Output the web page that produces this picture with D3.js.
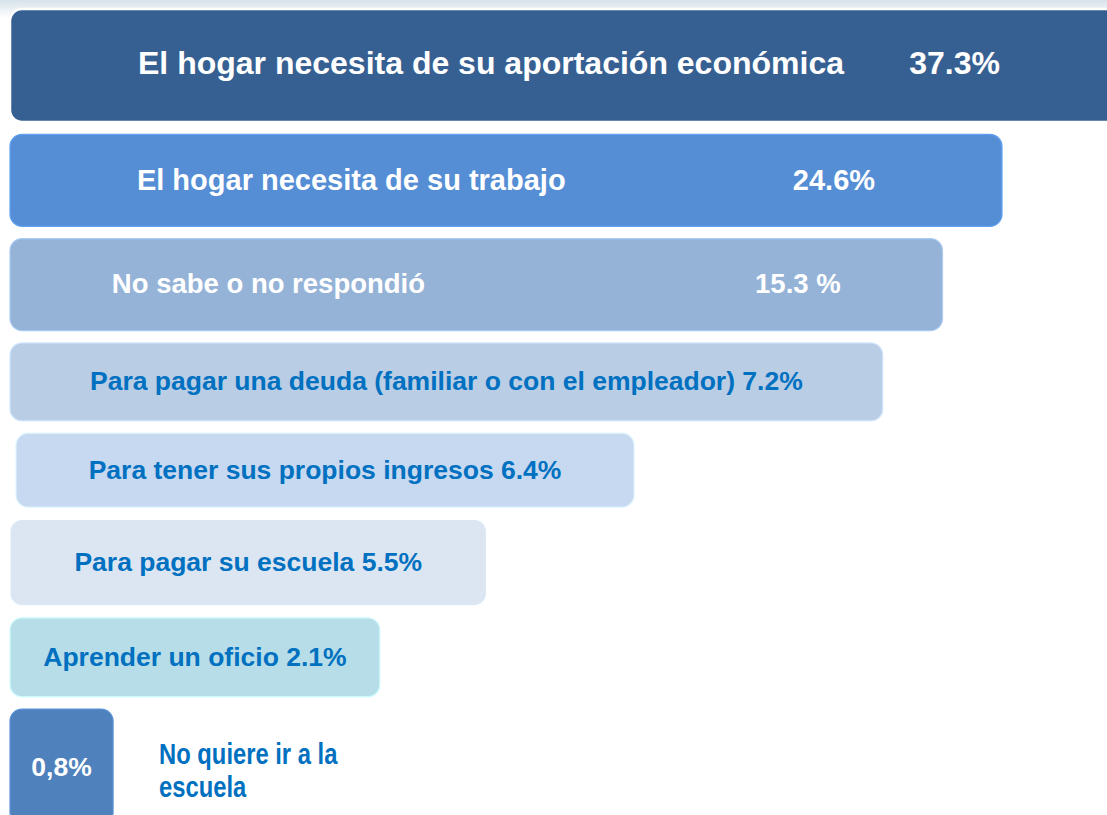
<!DOCTYPE html>
<html>
<head>
<meta charset="utf-8">
<script src="https://cdn.jsdelivr.net/npm/d3@7"></script>
<style>
  html, body { margin: 0; padding: 0; background: #ffffff; }
  svg { display: block; }
</style>
</head>
<body>
<script>
// ---------------- DATA ----------------
const categories = [
  "El hogar necesita de su aportación económica",
  "El hogar necesita de su trabajo",
  "No sabe o no respondió",
  "Para pagar una deuda (familiar o con el empleador)",
  "Para tener sus propios ingresos",
  "Para pagar su escuela",
  "Aprender un oficio",
  "No quiere ir a la escuela"
];
const values = [37.3, 24.6, 15.3, 7.2, 6.4, 5.5, 2.1, 0.8];
const valueLabels = ["37.3%", "24.6%", "15.3 %", "7.2%", "6.4%", "5.5%", "2.1%", "0,8%"];

// ---------------- STYLES ----------------
const rowStyles = [
  { layout: "split",  fill: "#376092", text: "#ffffff", size: 32,   height: 113, indent: 0, stroke: "#ffffff" },
  { layout: "split",  fill: "#558ED5", text: "#ffffff", size: 29,   height: 92,  indent: 0 },
  { layout: "split",  fill: "#95B3D7", text: "#ffffff", size: 27.5, height: 92,  indent: 0 },
  { layout: "inline", fill: "#B9CDE5", text: "#0070C0", size: 26.5, height: 78,  indent: 0 },
  { layout: "inline", fill: "#C6D9F1", text: "#0070C0", size: 26.5, height: 74,  indent: 6 },
  { layout: "inline", fill: "#DCE6F2", text: "#0070C0", size: 26.5, height: 86,  indent: 0 },
  { layout: "inline", fill: "#B7DEE8", text: "#0070C0", size: 26.5, height: 79,  indent: 0 },
  { layout: "box",    fill: "#4F81BD", text: "#ffffff", size: 26.5, height: 115, indent: 0,
    labelColor: "#0070C0", labelSize: 29, labelStretch: 0.82 }
];

const W = 1107, H = 815;
const left = 10, top0 = 9, rowGap = 12.3, radius = 12;
const FONT = "'Liberation Sans', Arial, Helvetica, sans-serif";

const svg = d3.select("body").append("svg").attr("width", W).attr("height", H);

// background: soft light strip at the top
const defs = svg.append("defs");
const g0 = defs.append("linearGradient").attr("id", "topGlow").attr("x1", 0).attr("y1", 0).attr("x2", 0).attr("y2", 1);
g0.append("stop").attr("offset", "0%").attr("stop-color", "#d6e2ea");
g0.append("stop").attr("offset", "100%").attr("stop-color", "#ffffff");
svg.append("rect").attr("x", 0).attr("y", 0).attr("width", W).attr("height", 18).attr("fill", "url(#topGlow)");

// ---------------- SCALES ----------------
const maxV = d3.max(values);
// inner horizontal padding around the text grows with the value
const pad = d3.scaleLinear().domain([0, 7.2, 25]).range([14, 80, 128]).clamp(true);
// width of the emphasised (split) bars
const xSplit = d3.scalePow().exponent(2).domain([0, maxV]).range([895, 1118]);

// text measuring helper
const meas = svg.append("text").attr("visibility", "hidden").attr("font-weight", "bold");
function textWidth(str, size) {
  meas.attr("font-size", size).attr("font-family", FONT).text(str);
  return meas.node().getComputedTextLength();
}

// vertical stacking of rows
const heights = rowStyles.map(s => s.height);
const ys = heights.map((h, i) => top0 + d3.sum(heights.slice(0, i)) + i * rowGap);

const rows = categories.map((c, i) => {
  const s = rowStyles[i], v = values[i];
  let w;
  if (s.layout === "split") w = xSplit(v);
  else if (s.layout === "inline") w = textWidth(c + " " + valueLabels[i], s.size) + 2 * pad(v);
  else w = textWidth(valueLabels[i], s.size) + 2 * pad(v);
  return { cat: c, v, label: valueLabels[i], s, x: left + s.indent, y: ys[i], w, h: s.height };
});

const g = svg.selectAll("g.row").data(rows).join("g").attr("class", "row");

g.append("rect")
  .attr("x", d => d.x).attr("y", d => d.y)
  .attr("width", d => d.w).attr("height", d => d.h)
  .attr("rx", radius).attr("ry", radius)
  .attr("fill", d => d.s.fill)
  .attr("stroke", d => d.s.stroke || d3.color(d.s.fill).brighter(0.35).formatHex())
  .attr("stroke-width", d => d.s.stroke ? 2.5 : 1.2);

const cap = 0.716;
function baseline(d, size) { return d.y + d.h / 2 + size * cap / 2; }

g.each(function(d) {
  const sel = d3.select(this);
  const s = d.s;
  if (s.layout === "split") {
    const yb = baseline(d, s.size) - (d.h > 100 ? 3 : 1);
    sel.append("text")
      .attr("x", d.x + pad(d.v)).attr("y", yb)
      .attr("font-family", FONT).attr("font-weight", "bold").attr("font-size", s.size)
      .attr("fill", s.text).text(d.cat);
    sel.append("text")
      .attr("x", d.x + d.w - pad(d.v)).attr("y", yb)
      .attr("text-anchor", "end")
      .attr("font-family", FONT).attr("font-weight", "bold").attr("font-size", s.size)
      .attr("fill", s.text).text(d.label);
  } else if (s.layout === "inline") {
    sel.append("text")
      .attr("x", d.x + d.w / 2).attr("y", baseline(d, s.size) - 1)
      .attr("text-anchor", "middle")
      .attr("font-family", FONT).attr("font-weight", "bold").attr("font-size", s.size)
      .attr("fill", s.text).text(d.cat + " " + d.label);
  } else {
    const by = d.y + 57;
    sel.append("text")
      .attr("x", d.x + d.w / 2).attr("y", by + s.size * cap / 2)
      .attr("text-anchor", "middle")
      .attr("font-family", FONT).attr("font-weight", "bold").attr("font-size", s.size)
      .attr("fill", s.text).text(d.label);
    // wrapped outside label (condensed)
    const words = d.cat.split(" ");
    const maxW = 200;
    const lines = [];
    let cur = "";
    words.forEach(wd => {
      const t = cur ? cur + " " + wd : wd;
      if (cur && textWidth(t, s.labelSize) * s.labelStretch > maxW) { lines.push(cur); cur = wd; }
      else cur = t;
    });
    if (cur) lines.push(cur);
    const lh = 33;
    const lx = d.x + d.w + 46;
    const firstBase = by + 4 - (lines.length - 1) * lh / 2 + s.labelSize * cap / 2;
    sel.append("text")
      .attr("transform", `translate(${lx},0) scale(${s.labelStretch},1)`)
      .attr("font-family", FONT).attr("font-weight", "bold").attr("font-size", s.labelSize)
      .attr("fill", s.labelColor)
      .selectAll("tspan").data(lines).join("tspan")
      .attr("x", 0)
      .attr("y", (l, k) => firstBase + k * lh)
      .text(l => l);
  }
});
meas.remove();
</script>
</body>
</html>
